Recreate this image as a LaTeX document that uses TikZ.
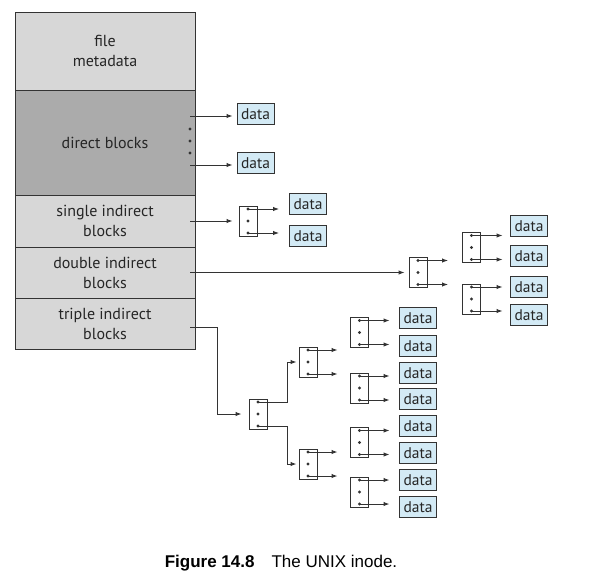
\documentclass[tikz,border=0pt]{standalone}
\usepackage{fontspec}
\setmainfont{PT Sans}
\newfontfamily\capfont{Liberation Sans}
\usepackage{xcolor}
\usetikzlibrary{arrows.meta}
\usetikzlibrary{calc}
\usetikzlibrary{positioning}

\definecolor{metagray}{HTML}{D7D7D7}
\definecolor{directgray}{HTML}{ABABAB}
\definecolor{datablue}{HTML}{D3EAF5}
\definecolor{linegray}{HTML}{333333}

% index block: name, x, y
\newcommand{\iblock}[3]{%
  \node[idx] (#1) at (#2,#3) {};
  \coordinate (#1t) at ($(#1.north)+(0,3.5)$);
  \coordinate (#1b) at ($(#1.south)+(0,-3.5)$);
  \fill[linegray] (#1t) circle (1.6pt) (#1.center) circle (1.6pt) (#1b) circle (1.6pt);
}

\begin{document}
\begin{tikzpicture}[x=1pt,y=-1pt,line width=1pt,node distance=0pt,>={Latex[length=6pt,width=4.5pt]}]
  \tikzstyle{slot}=[draw=linegray, fill=metagray, minimum width=180pt, inner sep=0pt, outer sep=0pt, align=center, text=black!85, font=\fontsize{16}{20}\selectfont]
  \tikzstyle{datbox}=[draw=linegray, fill=datablue, minimum width=37pt, minimum height=21pt, inner sep=0pt, text=black!85, font=\fontsize{15.5}{18}\selectfont]
  \tikzstyle{idx}=[draw=linegray, fill=white, minimum width=18pt, minimum height=30pt, inner sep=0pt]
  \tikzstyle{link}=[draw=linegray, ->]
  \useasboundingbox (0,0) rectangle (616,579);

  % the inode
  \node[slot, minimum height=78pt] (meta) at (105,51) {file\\metadata};
  \node[slot, fill=directgray, minimum height=105pt, below=of meta] (direct) {direct blocks};
  \node[slot, minimum height=52pt, below=of direct] (single) {single indirect\\blocks};
  \node[slot, minimum height=51pt, below=of single] (double) {double indirect\\blocks};
  \node[slot, minimum height=51pt, below=of double] (triple) {triple indirect\\blocks};

  % direct
  \node[datbox] (a1) at (255.5,114) {data};
  \node[datbox] (a2) at (255.5,163) {data};
  \coordinate (p1) at (190,116);
  \coordinate (p2) at (190,165);
  \draw[link, shorten >=4pt] (p1) -- (p1 -| a1.west);
  \draw[link, shorten >=4pt] (p2) -- (p2 -| a2.west);
  \fill[linegray] (190,129) circle (1.6pt) (190,141) circle (1.6pt) (190,153) circle (1.6pt);

  % single indirect
  \iblock{s1}{248}{221}
  \node[datbox] (b1) at (308,204) {data};
  \node[datbox] (b2) at (308,236) {data};
  \coordinate (p3) at (190,221);
  \draw[link, shorten >=6pt] (p3) -- (s1.west);
  \draw[link, shorten >=10pt] (s1t) -- (s1t -| b1.west);
  \draw[link, shorten >=10pt] (s1b) -- (s1b -| b2.west);

  % double indirect
  \iblock{d1}{418}{272.5}
  \iblock{d2}{471.5}{247.5}
  \iblock{d3}{471.5}{299}
  \node[datbox] (c1) at (529,226) {data};
  \node[datbox] (c2) at (529,256) {data};
  \node[datbox] (c3) at (529,287) {data};
  \node[datbox] (c4) at (529,315) {data};
  \coordinate (p4) at (190,272.5);
  \draw[link, shorten >=4pt] (p4) -- (d1.west);
  \draw[link, shorten >=14pt] (d1t) -- (d1t -| d2.west);
  \draw[link, shorten >=14pt] (d1b) -- (d1b -| d3.west);
  \draw[link, shorten >=7.5pt] (d2t) -- (d2t -| c1.west);
  \draw[link, shorten >=7.5pt] (d2b) -- (d2b -| c2.west);
  \draw[link, shorten >=7.5pt] (d3t) -- (d3t -| c3.west);
  \draw[link, shorten >=7.5pt] (d3b) -- (d3b -| c4.west);

  % triple indirect
  \iblock{t1}{258}{414}
  \iblock{t2}{308}{362}
  \iblock{t3}{308}{464}
  \iblock{t4}{359.5}{332.5}
  \iblock{t5}{359.5}{388}
  \iblock{t6}{359.5}{442.5}
  \iblock{t7}{359.5}{492}
  \foreach \y [count=\i] in {318,346,373,399,426,453,480,507}
    \node[datbox] (e\i) at (418,\y) {data};
  \coordinate (p5) at (190,327);
  \coordinate (p6) at (217,327);
  \draw[link, shorten >=7pt] (p5) -- (p6) |- (t1.west);
  \draw[link, shorten >=2pt] (t1t) -| ($(t2.west)+(-11,0)$) -- (t2.west);
  \draw[link, shorten >=2pt] (t1b) -| ($(t3.west)+(-11,0)$) -- (t3.west);
  \draw[link, shorten >=12.5pt] (t2t) -- (t2t -| t4.west);
  \draw[link, shorten >=12.5pt] (t2b) -- (t2b -| t5.west);
  \draw[link, shorten >=12.5pt] (t3t) -- (t3t -| t6.west);
  \draw[link, shorten >=12.5pt] (t3b) -- (t3b -| t7.west);
  \draw[link, shorten >=9.5pt] (t4t) -- (t4t -| e1.west);
  \draw[link, shorten >=9.5pt] (t4b) -- (t4b -| e2.west);
  \draw[link, shorten >=9.5pt] (t5t) -- (t5t -| e3.west);
  \draw[link, shorten >=9.5pt] (t5b) -- (t5b -| e4.west);
  \draw[link, shorten >=9.5pt] (t6t) -- (t6t -| e5.west);
  \draw[link, shorten >=9.5pt] (t6b) -- (t6b -| e6.west);
  \draw[link, shorten >=9.5pt] (t7t) -- (t7t -| e7.west);
  \draw[link, shorten >=9.5pt] (t7b) -- (t7b -| e8.west);

  % caption
  \node[font=\capfont\fontsize{17}{20}\selectfont] (cap) at (281,563) {\textbf{Figure 14.8}\quad The UNIX inode.};
\end{tikzpicture}
\end{document}
